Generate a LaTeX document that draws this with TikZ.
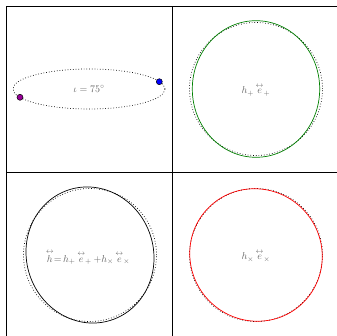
\documentclass[tikz,border=0pt]{standalone}
\usepackage{amsmath}
\usetikzlibrary{positioning}

\definecolor{plusgreen}{rgb}{0,0.5,0}
\definecolor{masspurple}{rgb}{0.6,0,0.6}

\begin{document}
\begin{tikzpicture}[x=1pt, y=1pt,
    frame/.style={line width=0.8pt},
    ref/.style={dotted, line width=0.7pt},
    wave/.style={line width=0.7pt},
    lbl/.style={text=black!60, inner sep=0pt},
    mass/.style={circle, draw, line width=0.5pt, minimum size=6pt, inner sep=0pt}]

    \useasboundingbox (0,0) rectangle (337,336);
    \clip (0,0) rectangle (337,336);

    % panel frame
    \draw[frame] (6,0) -- (6,330) -- (337,330);
    \draw[frame] (172,0) -- (172,330);
    \draw[frame] (6,164) -- (337,164);

    \coordinate (orbit) at (89,247);
    \coordinate (plus) at (256,247);
    \coordinate (total) at (90,81);
    \coordinate (cross) at (256,81);

    % orbit seen at inclination
    \draw[ref] (orbit) ellipse [x radius=76, y radius=20];
    \node[mass, fill=blue] (m1) at (159.3,254.3) {};
    \node[mass, fill=masspurple] (m2) at (20,238.7) {};
    \node[lbl] (incl) at (orbit) {$\iota = 75^\circ$};

    % plus polarisation
    \draw[ref] (plus) circle [radius=66.5];
    \draw[wave, plusgreen] (plus) ellipse [x radius=63.7, y radius=68.3];
    \node[lbl] (hplus) at ([yshift=-1pt]plus) {$h_+\,\overset{\leftrightarrow}{e}_+$};

    % sum of both
    \draw[ref] (total) circle [radius=66.5];
    \draw[wave, rotate around={18:(total)}] (total) ellipse [x radius=63.5, y radius=68.5];
    \node[lbl] (hsum) at ([xshift=-2pt, yshift=-2pt]total)
        {$\overset{\leftrightarrow}{h}{=}\,h_+\,\overset{\leftrightarrow}{e}_+\,{+}h_\times\,\overset{\leftrightarrow}{e}_\times$};

    % cross polarisation
    \draw[ref] (cross) circle [radius=66.5];
    \draw[wave, red, rotate around={45:(cross)}] (cross) ellipse [x radius=65.5, y radius=67];
    \node[lbl] (hcross) at ([yshift=-1pt]cross) {$h_\times\,\overset{\leftrightarrow}{e}_\times$};
\end{tikzpicture}
\end{document}
